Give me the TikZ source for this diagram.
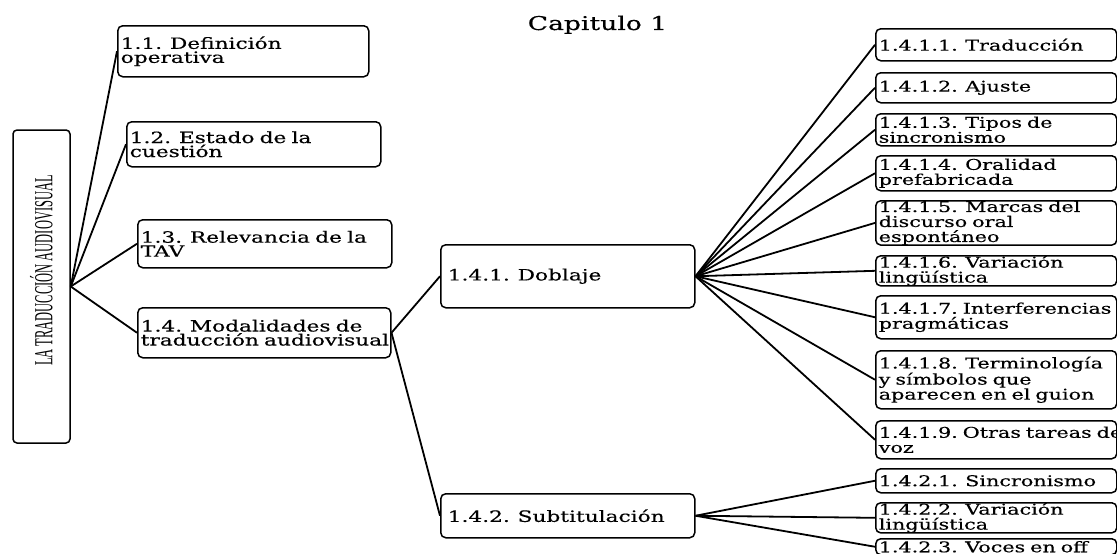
\documentclass[tikz,border=0pt]{standalone}
\usepackage{fontspec}
\usepackage{tikz}
\newfontfamily\boxfont[FakeStretch=1.4,FakeBold=0.4]{DejaVu Serif}
\newfontfamily\rootfont[FakeStretch=0.48]{Liberation Serif}

\begin{document}
\begin{tikzpicture}[x=1pt, y=-1pt,
  topic/.style={draw, rounded corners=5pt, line width=1.5pt, anchor=north west, inner xsep=3pt, inner ysep=0pt, align=left,
    execute at begin node={\hyphenpenalty=10000\relax}, font=\boxfont\fontsize{15.5}{14}\selectfont},
  leaf/.style={topic, text width=235pt, font=\boxfont\fontsize{14.8}{15}\selectfont},
  link/.style={line width=1.8pt}
]
\useasboundingbox (0,0) rectangle (1117,554);
\node[font=\boxfont\fontsize{19}{19}\selectfont, anchor=base] (title) at (597.5,30) {Capitulo 1};
\node[draw, rounded corners=4pt, line width=1.5pt, rotate=90, minimum width=313pt, minimum height=57pt, inner sep=0pt, font=\rootfont\fontsize{26}{26}\selectfont] (root) at (41.5,286.5) {\hspace*{32pt}LA TRADUCCIÓN AUDIOVISUAL};
% level 1
\node[topic, text width=245pt, minimum height=51pt] (n11) at (117,25) {1.1. Definición\\operativa};
\node[topic, text width=248pt, minimum height=45pt] (n12) at (126,121) {1.2. Estado de la\\cuestión};
\node[topic, text width=248pt, minimum height=48pt] (n13) at (137,219) {1.3. Relevancia de la\\TAV};
\node[topic, text width=247pt, minimum height=50pt] (n14) at (137,307) {1.4. Modalidades de\\traducción~audiovisual};
% level 2
\node[topic, inner xsep=7pt, text width=240pt, minimum height=63pt] (dob) at (440,244) {1.4.1. Doblaje};
\node[topic, inner xsep=7pt, text width=240pt, minimum height=44pt] (sub) at (440,493) {1.4.2. Subtitulación};
% level 3
\node[leaf, minimum height=32pt] (d1) at (875,28) {1.4.1.1. Traducción};
\node[leaf, minimum height=30pt] (d2) at (875,72) {1.4.1.2. Ajuste};
\node[leaf, minimum height=32pt] (d3) at (875,113) {1.4.1.3. Tipos de\\sincronismo};
\node[leaf, minimum height=35pt] (d4) at (875,155) {1.4.1.4. Oralidad\\prefabricada};
\node[leaf, minimum height=43pt] (d5) at (875,200) {1.4.1.5. Marcas del\\discurso oral\\espontáneo};
\node[leaf, minimum height=28pt] (d6) at (875,255) {1.4.1.6. Variación\\lingüística};
\node[leaf, minimum height=43pt] (d7) at (875,295) {1.4.1.7.~Interferencias\\pragmáticas};
\node[leaf, minimum height=58pt] (d8) at (875,350) {1.4.1.8. Terminología\\y símbolos que\\aparecen~en~el~guion};
\node[leaf, minimum height=38pt] (d9) at (875,420) {1.4.1.9.~Otras~tareas~de\\voz};
\node[leaf, minimum height=24pt] (s1) at (875,468) {1.4.2.1. Sincronismo};
\node[leaf, minimum height=26pt] (s2) at (875,502) {1.4.2.2. Variación\\lingüística};
\node[leaf, minimum height=16pt] (s3) at (875,538) {1.4.2.3. Voces en off};
% connectors
\foreach \c in {n11,n12,n13,n14}
  \draw[link] (root.south) -- (\c.west);
\draw[link] (n14.east) -- (dob.west);
\draw[link] (n14.east) -- (sub.west);
\foreach \c in {d1,d2,d3,d4,d5,d6,d7,d8,d9}
  \draw[link] (dob.east) -- (\c.west);
\foreach \c in {s1,s2,s3}
  \draw[link] (sub.east) -- (\c.west);
\end{tikzpicture}
\end{document}
